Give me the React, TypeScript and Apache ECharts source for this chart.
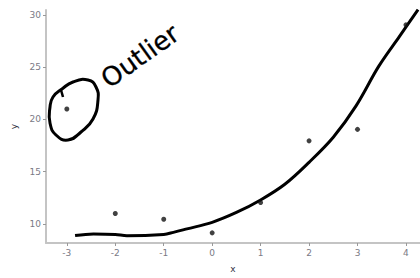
import React, { useEffect, useRef } from "react";
import * as echarts from "echarts";

const pointX = [-3, -2, -1, 0, 1, 2, 3, 4];
const pointY = [21, 11, 10.45, 9.15, 12.05, 17.95, 19.05, 29.05];

const curveX = [-2.83, -2.45, -2.0, -1.76, -1.0, -0.8, -0.52, 0.0, 0.5, 1.0, 1.5, 2.0, 2.5, 2.97, 3.44, 3.86, 4.25];
const curveY = [8.9, 9.05, 9.0, 8.87, 9.0, 9.2, 9.53, 10.16, 11.1, 12.3, 13.8, 15.9, 18.3, 21.3, 25.1, 27.9, 30.5];

const xTicks = [-3, -2, -1, 0, 1, 2, 3, 4];
const yTicks = [10, 15, 20, 25, 30];
const annotation = "Outlier";

export default function App() {
  const ref = useRef<HTMLDivElement>(null);
  useEffect(() => {
    if (!ref.current) return;
    const chart = echarts.init(ref.current, undefined, { renderer: "svg" });
    const axisCol = "#c4c4c4";
    const labelCol = "#7a7a85";
    chart.setOption({
      animation: false,
      grid: { left: 46, top: 10, right: 0, bottom: 32, containLabel: false },
      xAxis: {
        type: "value",
        min: -3.43,
        max: 4.29,
        name: "x",
        nameLocation: "middle",
        nameGap: 21,
        nameTextStyle: { color: "#334", fontSize: 9, fontFamily: "DejaVu Sans" },
        axisLine: { show: true, onZero: false, lineStyle: { color: axisCol, width: 2 } },
        axisTick: { show: true, length: 3, lineStyle: { color: "#999" }, customValues: xTicks },
        axisLabel: { color: labelCol, fontSize: 9, margin: 5, fontFamily: "DejaVu Sans", customValues: xTicks, formatter: (v: number) => String(v) },
        splitLine: { show: false },
      },
      yAxis: {
        type: "value",
        min: 8.18,
        max: 30.47,
        name: "y",
        nameLocation: "middle",
        nameGap: 24,
        nameTextStyle: { color: "#334", fontSize: 9, fontFamily: "DejaVu Sans" },
        axisLine: { show: true, onZero: false, lineStyle: { color: axisCol, width: 2 } },
        axisTick: { show: true, length: 3, lineStyle: { color: "#999" }, customValues: yTicks },
        axisLabel: { color: labelCol, fontSize: 9, margin: 5, fontFamily: "DejaVu Sans", customValues: yTicks },
        splitLine: { show: false },
      },
      series: [
        {
          type: "line",
          data: curveX.map((x, i) => [x, curveY[i]]),
          smooth: 0.35,
          showSymbol: false,
          clip: true,
          lineStyle: { color: "#000", width: 3 },
          z: 2,
        },
        {
          type: "scatter",
          data: pointX.map((x, i) => [x, pointY[i]]),
          symbolSize: 5,
          itemStyle: { color: "#111" },
          z: 3,
        },
      ],
      graphic: [
        {
          type: "polygon",
          shape: {
            points: [
              [62, 89], [73, 82], [88, 80], [96, 87], [98, 100], [93, 119],
              [81, 132], [68, 140], [56, 135], [50, 123], [50, 107], [53, 97],
            ],
            smooth: 0.5,
          },
          style: { fill: "none", stroke: "#000", lineWidth: 3 },
          z: 10,
        },
        {
          type: "line",
          shape: { x1: 61, y1: 90, x2: 63, y2: 97 },
          style: { stroke: "#000", lineWidth: 2.5 },
          z: 10,
        },
        {
          type: "text",
          x: 140,
          y: 56,
          rotation: 0.62,
          style: {
            text: annotation,
            fontSize: 26,
            fontFamily: "DejaVu Sans",
            fontWeight: "normal",
            fill: "#000",
            stroke: "#000",
            lineWidth: 0.3,
            textAlign: "center",
            textVerticalAlign: "middle",
          },
          z: 10,
        },
      ],
    });
    return () => chart.dispose();
  }, []);
  return <div ref={ref} style={{ width: 420, height: 278, position: "absolute", left: 0, top: 0 }} />;
}
